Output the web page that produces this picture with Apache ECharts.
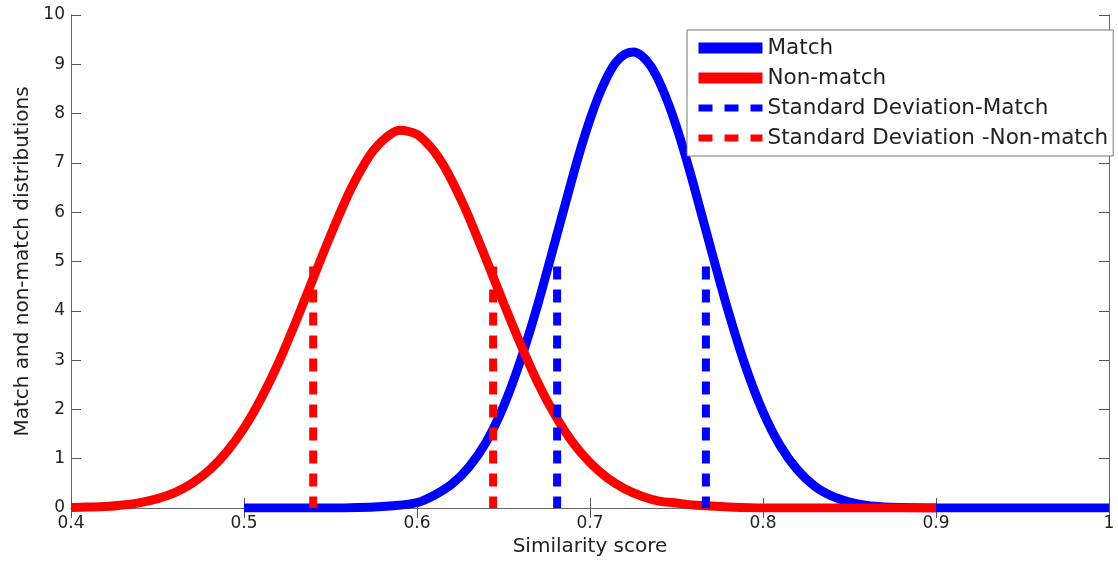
<!DOCTYPE html>
<html>
<head>
<meta charset="utf-8">
<style>
  html, body { margin: 0; padding: 0; background: #fff; }
  #chart { width: 1118px; height: 562px; }
</style>
<script src="https://cdn.jsdelivr.net/npm/echarts@6/dist/echarts.min.js"></script>
</head>
<body>
<div id="chart"></div>
<script>
// ---- Data ----
const xTicks = [0.4, 0.5, 0.6, 0.7, 0.8, 0.9, 1];
const yTicks = [0, 1, 2, 3, 4, 5, 6, 7, 8, 9, 10];

const matchX = [0.50, 0.55, 0.58, 0.60, 0.61, 0.62, 0.63, 0.64, 0.65, 0.66, 0.67, 0.68, 0.69, 0.695, 0.70, 0.705, 0.71, 0.715, 0.72, 0.725, 0.73, 0.735, 0.74, 0.745, 0.75, 0.755, 0.76, 0.77, 0.78, 0.79, 0.80, 0.81, 0.82, 0.83, 0.84, 0.85, 0.86, 0.87, 0.88, 0.90, 1.00];
const matchY = [0.00, 0.00, 0.03, 0.11, 0.26, 0.48, 0.83, 1.34, 2.06, 3.01, 4.15, 5.43, 6.72, 7.33, 7.88, 8.36, 8.75, 9.04, 9.20, 9.25, 9.17, 8.97, 8.65, 8.23, 7.73, 7.16, 6.54, 5.24, 3.98, 2.86, 1.95, 1.26, 0.77, 0.44, 0.24, 0.12, 0.05, 0.02, 0.01, 0.00, 0.00];

const nonMatchX = [0.40, 0.41, 0.42, 0.43, 0.44, 0.45, 0.46, 0.47, 0.48, 0.49, 0.50, 0.51, 0.52, 0.53, 0.54, 0.55, 0.56, 0.565, 0.57, 0.575, 0.58, 0.585, 0.59, 0.595, 0.60, 0.605, 0.61, 0.615, 0.62, 0.625, 0.63, 0.64, 0.65, 0.66, 0.67, 0.68, 0.69, 0.70, 0.71, 0.72, 0.73, 0.74, 0.75, 0.76, 0.77, 0.78, 0.80, 0.90];
const nonMatchY = [0.01, 0.02, 0.03, 0.06, 0.11, 0.19, 0.31, 0.50, 0.77, 1.14, 1.62, 2.23, 2.95, 3.78, 4.66, 5.53, 6.34, 6.69, 7.00, 7.26, 7.45, 7.59, 7.66, 7.64, 7.58, 7.43, 7.23, 6.97, 6.65, 6.29, 5.90, 5.04, 4.16, 3.31, 2.53, 1.87, 1.33, 0.92, 0.61, 0.39, 0.24, 0.14, 0.10, 0.06, 0.04, 0.02, 0.00, 0.00];

const sdMatchX = [0.681, 0.767];
const sdNonMatchX = [0.540, 0.644];
const sdLineTop = 4.9;

const legendNames = ['Match', 'Non-match', 'Standard Deviation-Match', 'Standard Deviation -Non-match'];
const xName = 'Similarity score';
const yName = 'Match and non-match distributions';

// ---- Build chart ----
const FONT = 'DejaVu Sans';
const BLUE = '#0000ff';
const RED = '#ff0000';

function pairs(xs, ys) { return xs.map((x, i) => [x, ys[i]]); }

const series = [
  {
    name: legendNames[0], type: 'line', data: pairs(matchX, matchY),
    symbol: 'none', smooth: 0.25, lineStyle: { color: BLUE, width: 9 }, itemStyle: { color: BLUE },
    z: 2
  },
  {
    name: legendNames[1], type: 'line', data: pairs(nonMatchX, nonMatchY),
    symbol: 'none', smooth: 0.25, lineStyle: { color: RED, width: 9 }, itemStyle: { color: RED },
    z: 3
  }
];
sdMatchX.forEach(x => series.push({
  name: legendNames[2], type: 'line', data: [[x, sdLineTop], [x, 0]],
  symbol: 'none', lineStyle: { color: BLUE, width: 8, type: [13, 10] }, itemStyle: { color: BLUE }, z: 4
}));
sdNonMatchX.forEach(x => series.push({
  name: legendNames[3], type: 'line', data: [[x, sdLineTop], [x, 0]],
  symbol: 'none', lineStyle: { color: RED, width: 8, type: [13, 10] }, itemStyle: { color: RED }, z: 5
}));

const axisLineStyle = { color: '#666', width: 1 };
const tickStyle = { show: true, inside: true, length: 10, lineStyle: { color: '#555', width: 1 } };
const hiddenSymbol = { opacity: 0 };

const option = {
  animation: false,
  backgroundColor: '#fff',
  textStyle: { fontFamily: FONT },
  grid: { left: 71, right: 9, top: 15, bottom: 54, containLabel: false },
  legend: {
    orient: 'vertical', left: 687, top: 30,
    padding: [7, 5, 7, 6],
    itemWidth: 64, itemHeight: 14, itemGap: 8,
    backgroundColor: '#fff', borderColor: '#777', borderWidth: 1,
    textStyle: { fontFamily: FONT, fontSize: 21.5, color: '#222' },
    data: [
      { name: legendNames[0], itemStyle: hiddenSymbol, lineStyle: { width: 11, type: 'solid', color: BLUE } },
      { name: legendNames[1], itemStyle: hiddenSymbol, lineStyle: { width: 11, type: 'solid', color: RED } },
      { name: legendNames[2], itemStyle: hiddenSymbol, lineStyle: { width: 7, type: [14, 12], color: BLUE } },
      { name: legendNames[3], itemStyle: hiddenSymbol, lineStyle: { width: 7, type: [14, 12], color: RED } }
    ]
  },
  xAxis: [
    {
      type: 'value', min: xTicks[0], max: xTicks[xTicks.length - 1], interval: 0.1,
      position: 'bottom',
      name: xName, nameLocation: 'middle', nameGap: 29,
      nameTextStyle: { fontFamily: FONT, fontSize: 20, color: '#222' },
      axisLine: { show: true, lineStyle: axisLineStyle },
      axisTick: tickStyle,
      axisLabel: { fontFamily: FONT, fontSize: 17, color: '#222', margin: 7,
        formatter: v => { const t = xTicks.find(k => Math.abs(k - v) < 1e-9); return t === undefined ? '' : String(t); } },
      splitLine: { show: false }
    },
    {
      type: 'value', min: xTicks[0], max: xTicks[xTicks.length - 1], interval: 0.1,
      position: 'top',
      axisLine: { show: true, lineStyle: axisLineStyle },
      axisTick: tickStyle,
      axisLabel: { show: false },
      splitLine: { show: false }
    }
  ],
  yAxis: [
    {
      type: 'value', min: yTicks[0], max: yTicks[yTicks.length - 1], interval: 1,
      position: 'left',
      name: yName, nameLocation: 'middle', nameGap: 36,
      nameTextStyle: { fontFamily: FONT, fontSize: 20, color: '#222' },
      axisLine: { show: true, lineStyle: axisLineStyle },
      axisTick: tickStyle,
      axisLabel: { fontFamily: FONT, fontSize: 17, color: '#222', margin: 6 },
      splitLine: { show: false }
    },
    {
      type: 'value', min: yTicks[0], max: yTicks[yTicks.length - 1], interval: 1,
      position: 'right',
      axisLine: { show: true, lineStyle: axisLineStyle },
      axisTick: tickStyle,
      axisLabel: { show: false },
      splitLine: { show: false }
    }
  ],
  series: series
};

const chart = echarts.init(document.getElementById('chart'), null, { renderer: 'canvas' });
chart.setOption(option);
</script>
</body>
</html>
